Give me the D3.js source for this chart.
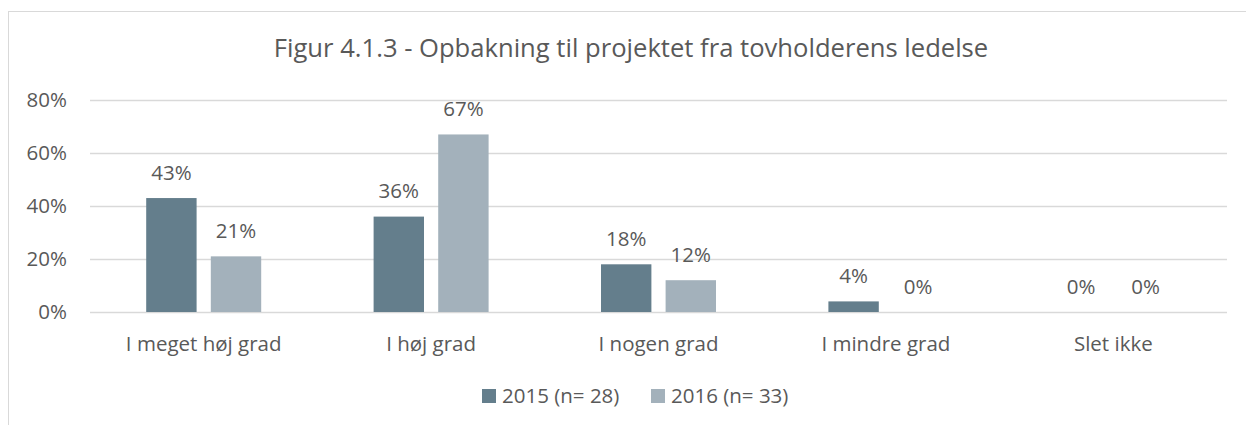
<!DOCTYPE html>
<html>
<head>
<meta charset="utf-8">
<script src="https://cdn.jsdelivr.net/npm/d3@7"></script>
<style>
  body { margin: 0; background: #fff; }
  svg { display: block; font-family: "Open Sans", "Noto Sans", sans-serif; }
</style>
</head>
<body>
<svg id="chart" width="1246" height="425"></svg>
<script>
const categories = ['I meget høj grad', 'I høj grad', 'I nogen grad', 'I mindre grad', 'Slet ikke'];
const series = ['2015 (n= 28)', '2016 (n= 33)'];
const values2015 = [0.43, 0.36, 0.18, 0.04, 0];
const values2016 = [0.21, 0.67, 0.12, 0, 0];
const yTicks = [0, 0.2, 0.4, 0.6, 0.8];
const colors = ['#647e8c', '#a3b1bb'];

const svg = d3.select('#chart');
const textColor = '#595959';
const labelSize = 20.5;

// outer chart frame
svg.append('rect')
  .attr('x', 8.5).attr('y', 11.5)
  .attr('width', 1260).attr('height', 430)
  .attr('fill', 'none').attr('stroke', '#d9d9d9');

svg.append('text')
  .attr('x', 631).attr('y', 57)
  .attr('text-anchor', 'middle')
  .attr('font-size', 25.6)
  .attr('fill', textColor)
  .text('Figur 4.1.3 - Opbakning til projektet fra tovholderens ledelse');

const margin = { left: 90, right: 1227, top: 100, bottom: 312 };

const x0 = d3.scaleBand()
  .domain(categories)
  .range([margin.left, margin.right]);

const x1 = d3.scaleBand()
  .domain(series)
  .range([0, 115])
  .paddingInner(0.22);

const y = d3.scaleLinear()
  .domain([0, 0.8])
  .range([margin.bottom, margin.top]);

// gridlines
svg.append('g')
  .selectAll('line')
  .data(yTicks)
  .enter().append('line')
  .attr('x1', margin.left).attr('x2', margin.right)
  .attr('y1', d => Math.round(y(d)) + 0.5)
  .attr('y2', d => Math.round(y(d)) + 0.5)
  .attr('stroke', '#d9d9d9')
  .attr('stroke-width', 1.4);

// y axis labels
const yAxis = svg.append('g')
  .attr('transform', 'translate(' + (margin.left - 23) + ',0)')
  .call(d3.axisLeft(y).tickValues(yTicks).tickFormat(d3.format('.0%')).tickSize(0).tickPadding(0))
  .attr('font-family', null)
  .attr('font-size', labelSize);
yAxis.select('.domain').remove();
yAxis.selectAll('text').attr('fill', textColor);

// x axis labels
const xAxis = svg.append('g')
  .attr('transform', 'translate(0,' + margin.bottom + ')')
  .call(d3.axisBottom(x0).tickSize(0).tickPadding(24))
  .attr('font-family', null)
  .attr('font-size', labelSize);
xAxis.select('.domain').remove();
xAxis.selectAll('text').attr('fill', textColor);

const rows = categories.map((c, i) => ({ category: c, vals: [values2015[i], values2016[i]] }));

const groups = svg.append('g')
  .selectAll('g')
  .data(rows)
  .enter().append('g')
  .attr('transform', d => 'translate(' + (x0(d.category) + (x0.bandwidth() - 115) / 2) + ',0)');

groups.selectAll('rect')
  .data(d => d.vals.map((v, i) => ({ s: series[i], v: v, i: i })))
  .enter().append('rect')
  .attr('x', d => x1(d.s))
  .attr('width', x1.bandwidth())
  .attr('y', d => y(d.v))
  .attr('height', d => y(0) - y(d.v))
  .attr('fill', d => colors[d.i]);

groups.selectAll('text')
  .data(d => d.vals.map((v, i) => ({ s: series[i], v: v })))
  .enter().append('text')
  .attr('x', d => x1(d.s) + x1.bandwidth() / 2)
  .attr('y', d => y(d.v) - 18.5)
  .attr('text-anchor', 'middle')
  .attr('font-size', labelSize)
  .attr('fill', textColor)
  .text(d => d3.format('.0%')(d.v));

// legend
const legendX = [482, 651];
const legend = svg.append('g')
  .selectAll('g')
  .data(series)
  .enter().append('g')
  .attr('transform', (d, i) => 'translate(' + legendX[i] + ',389)');

legend.append('rect')
  .attr('width', 14).attr('height', 14)
  .attr('fill', (d, i) => colors[i]);

legend.append('text')
  .attr('x', 20).attr('y', 14)
  .attr('font-size', labelSize)
  .attr('fill', textColor)
  .text(d => d);
</script>
</body>
</html>
